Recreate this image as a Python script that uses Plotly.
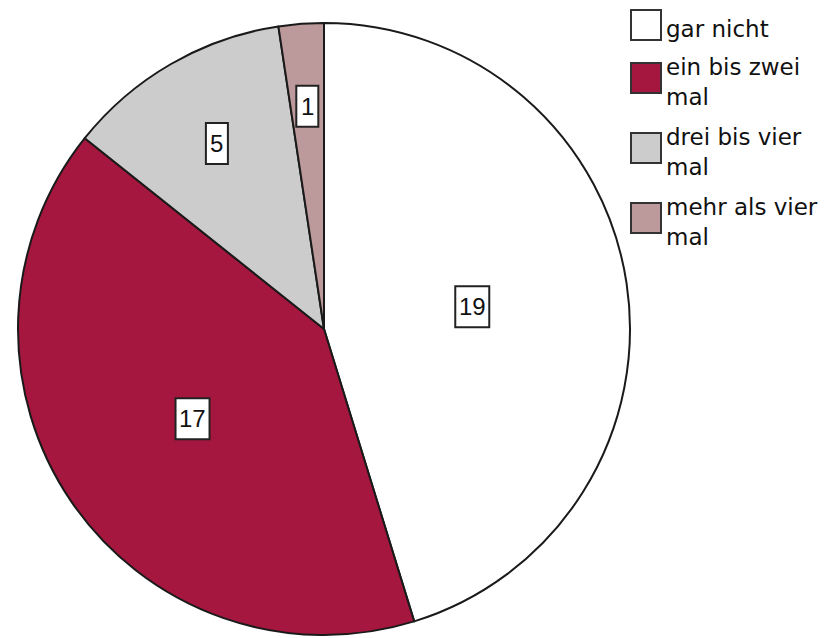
import math
import plotly.graph_objects as go

# ---- data ----
categories = ["gar nicht", "ein bis zwei mal", "drei bis vier mal", "mehr als vier mal"]
legend_labels = ["gar nicht", "ein bis zwei<br>mal", "drei bis vier<br>mal", "mehr als vier<br>mal"]
counts = [19, 17, 5, 1]
colors = ["#FFFFFF", "#A5173F", "#CCCCCC", "#BC999B"]

# ---- layout constants (px in the screenshot; page body has an 8px margin) ----
OFF = 8
W, H = 827 - OFF, 638 - OFF
CX, CY, R = 324 - OFF, 329 - OFF, 306      # pie centre / radius in px
label_radius = [0.49, 0.52, 0.70, 0.73]    # label distance as fraction of radius
legend_box_top = [t - OFF for t in (10, 63, 133, 203)]
BOX = 30
LEG_X = 631 - OFF
FONT = "Liberation Sans, Arial, sans-serif"
LEG_FONT = "DejaVu Sans, Verdana, sans-serif"

fig = go.Figure()
fig.add_trace(go.Pie(
    labels=categories,
    values=counts,
    sort=False,
    direction="clockwise",
    rotation=0,
    marker=dict(colors=colors, line=dict(color="#1a1a1a", width=2)),
    textinfo="none",
    hoverinfo="label+value",
    showlegend=False,
    domain=dict(x=[(CX - R) / W, (CX + R) / W],
                y=[1 - (CY + R) / H, 1 - (CY - R) / H]),
))

annotations = []
shapes = []

# value labels, boxed, placed at each slice's mid-angle
total = sum(counts)
cum = 0
for v, f in zip(counts, label_radius):
    mid = (cum + v / 2) / total * 2 * math.pi
    cum += v
    px = CX + f * R * math.sin(mid)
    py = CY - f * R * math.cos(mid)
    bw = 10 + 12 * len(str(v))
    bh = 41
    shapes.append(dict(
        type="rect", xref="paper", yref="paper",
        x0=(px - bw / 2) / W, x1=(px + bw / 2) / W,
        y0=1 - (py + bh / 2) / H, y1=1 - (py - bh / 2) / H,
        fillcolor="#FFFFFF", line=dict(color="#222222", width=2),
    ))
    annotations.append(dict(
        x=px / W, y=1 - py / H, xref="paper", yref="paper",
        text=str(v), showarrow=False,
        font=dict(family=FONT, size=24, color="#111111"),
        xanchor="center", yanchor="middle",
    ))

# manual legend
for lab, col, top in zip(legend_labels, colors, legend_box_top):
    shapes.append(dict(
        type="rect", xref="paper", yref="paper",
        x0=LEG_X / W, x1=(LEG_X + BOX) / W,
        y0=1 - (top + BOX) / H, y1=1 - top / H,
        fillcolor=col, line=dict(color="#333333", width=2),
    ))
    annotations.append(dict(
        x=(LEG_X + BOX + 3) / W, y=1 - (top + BOX / 2 + 4) / H,
        xref="paper", yref="paper", text=lab, showarrow=False,
        align="left", xanchor="left", yanchor="middle",
        font=dict(family=LEG_FONT, size=23, color="#111111"),
    ))

fig.update_layout(
    width=W, height=H,
    margin=dict(l=0, r=0, t=0, b=0),
    paper_bgcolor="#FFFFFF", plot_bgcolor="#FFFFFF",
    annotations=annotations, shapes=shapes,
    showlegend=False,
)

fig.write_html("out.html")
